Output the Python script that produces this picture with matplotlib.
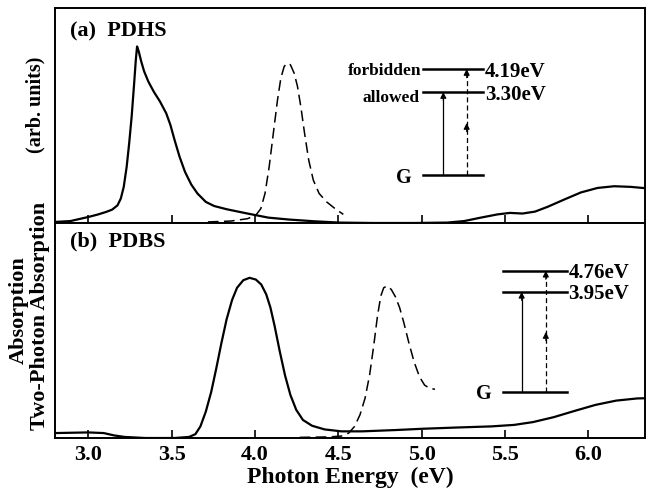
import numpy as np
import matplotlib
matplotlib.use("Agg")
import matplotlib.pyplot as plt

plt.rcParams['font.family'] = ['Liberation Serif', 'DejaVu Serif']
plt.rcParams['font.weight'] = 'bold'

# (a) PDHS  -- one-photon absorption (solid)
a_abs_e = [2.80, 2.8925, 3.0, 3.055, 3.105, 3.1425, 3.175, 3.195, 3.2125, 3.23, 3.245,
           3.26, 3.275, 3.285, 3.2925, 3.3025, 3.3175, 3.335, 3.36, 3.3925, 3.43, 3.4675,
           3.4925, 3.5175, 3.5475, 3.58, 3.6175, 3.655, 3.705, 3.755, 3.83, 3.955, 4.08,
           4.205, 4.355, 4.505, 4.705, 4.955, 5.155, 5.255, 5.355, 5.455, 5.53, 5.605,
           5.68, 5.755, 5.855, 5.955, 6.055, 6.155, 6.255, 6.34]
a_abs_y = [0.005, 0.009, 0.028, 0.039, 0.051, 0.062, 0.082, 0.114, 0.168, 0.261, 0.370,
           0.495, 0.650, 0.759, 0.821, 0.798, 0.751, 0.705, 0.658, 0.611, 0.565, 0.510,
           0.456, 0.386, 0.308, 0.238, 0.179, 0.137, 0.098, 0.079, 0.064, 0.044, 0.025,
           0.016, 0.008, 0.002, 0.0, 0.0, 0.002, 0.009, 0.025, 0.040, 0.047, 0.044,
           0.053, 0.075, 0.109, 0.142, 0.163, 0.171, 0.168, 0.162]
# (a) PDHS  -- two-photon absorption (dashed)
a_tpa_e = [3.7175, 3.855, 3.955, 4.005, 4.035, 4.06, 4.085, 4.11, 4.135, 4.155, 4.175,
           4.1925, 4.2125, 4.235, 4.255, 4.275, 4.2975, 4.3225, 4.35, 4.385, 4.43, 4.48,
           4.53]
a_tpa_y = [0.005, 0.009, 0.020, 0.036, 0.067, 0.137, 0.261, 0.417, 0.572, 0.673, 0.728,
           0.743, 0.736, 0.697, 0.635, 0.541, 0.417, 0.292, 0.199, 0.137, 0.098, 0.067,
           0.040]

# (b) PDBS  -- one-photon absorption (solid)
b_abs_e = [2.80, 3.0, 3.0925, 3.155, 3.2175, 3.3425, 3.5175, 3.605, 3.6425, 3.6725,
           3.705, 3.7375, 3.7675, 3.7975, 3.83, 3.8625, 3.8925, 3.93, 3.9675, 4.005,
           4.0375, 4.0675, 4.0925, 4.1175, 4.1475, 4.18, 4.2125, 4.2475, 4.2875, 4.3425,
           4.4175, 4.5175, 4.6425, 4.8425, 5.005, 5.2175, 5.4175, 5.555, 5.6675, 5.7925,
           5.9175, 6.0425, 6.1675, 6.2925, 6.34]
b_abs_y = [0.023, 0.026, 0.023, 0.012, 0.005, 0.0, 0.0, 0.005, 0.018, 0.054, 0.123,
           0.215, 0.323, 0.438, 0.553, 0.642, 0.699, 0.734, 0.745, 0.737, 0.714, 0.668,
           0.607, 0.522, 0.407, 0.292, 0.200, 0.131, 0.084, 0.057, 0.040, 0.031, 0.031,
           0.037, 0.043, 0.049, 0.054, 0.061, 0.074, 0.097, 0.126, 0.154, 0.174, 0.184,
           0.185]
# (b) PDBS  -- two-photon absorption (dashed)
b_tpa_e = [4.2675, 4.4425, 4.5175, 4.5625, 4.5975, 4.63, 4.66, 4.6875, 4.7125, 4.735,
           4.755, 4.7725, 4.7925, 4.8175, 4.8425, 4.8675, 4.8925, 4.9225, 4.955, 4.9875,
           5.0175, 5.05, 5.08]
b_tpa_y = [0.003, 0.005, 0.009, 0.023, 0.054, 0.108, 0.184, 0.292, 0.430, 0.568, 0.661,
           0.699, 0.707, 0.691, 0.657, 0.607, 0.538, 0.445, 0.353, 0.284, 0.246, 0.230,
           0.227]

xticks = [3.0, 3.5, 4.0, 4.5, 5.0, 5.5, 6.0]
xticklabels = ['3.0', '3.5', '4.0', '4.5', '5.0', '5.5', '6.0']

# energy level diagrams: ground, allowed, forbidden levels (panel fraction)
a_levels = [0.223, 0.609, 0.716]
b_levels = [0.215, 0.68, 0.778]
a_level_names = ['G', 'allowed', 'forbidden']
a_level_values = ['3.30eV', '4.19eV']
b_level_values = ['3.95eV', '4.76eV']

fig = plt.figure(figsize=(6.5, 4.9), dpi=100)
ax1 = fig.add_axes([0.0846, 0.5449, 0.9077, 0.4388])
ax2 = fig.add_axes([0.0846, 0.1061, 0.9077, 0.4388])

dash = (0, (7, 3.5))
for ax in (ax1, ax2):
    ax.set_xlim(2.80, 6.34)
    ax.set_ylim(0, 1)
    ax.set_yticks([])
    ax.set_xticks(xticks)
    ax.tick_params(axis='x', direction='in', length=6, width=1.2, top=False, pad=5)
    for s in ax.spines.values():
        s.set_linewidth(1.4)

ax1.plot(a_abs_e, a_abs_y, color='k', lw=1.6)
ax1.plot(a_tpa_e, a_tpa_y, color='k', lw=1.1, linestyle=dash)
ax1.set_xticklabels([])
ax2.plot(b_abs_e, b_abs_y, color='k', lw=1.6)
ax2.plot(b_tpa_e, b_tpa_y, color='k', lw=1.1, linestyle=dash)
ax2.set_xticklabels(xticklabels, fontsize=16, fontweight='bold')
ax2.set_xlabel('Photon Energy  (eV)', fontsize=17, fontweight='bold', labelpad=1)

ax1.text(2.89, 0.893, '(a)  PDHS', fontsize=16, fontweight='bold', va='center')
ax2.text(2.89, 0.914, '(b)  PDBS', fontsize=16, fontweight='bold', va='center')


def head(ax, x, y, size=9):
    ax.annotate('', xy=(x, y), xytext=(x, y - 0.04),
                arrowprops=dict(arrowstyle='-|>', color='k', lw=0.8,
                                shrinkA=0, shrinkB=0, mutation_scale=size))


def diagram(ax, levels, x0, x1, xs, xd, xg, mid, values, fs):
    g, lo, hi = levels
    for lev in levels:
        ax.plot([x0, x1], [lev, lev], color='k', lw=1.8)
    ax.plot([xs, xs], [g, lo - 0.02], color='k', lw=0.9)
    head(ax, xs, lo)
    ax.plot([xd, xd], [g, hi - 0.02], color='k', lw=0.9, linestyle=(0, (4, 2.5)))
    head(ax, xd, mid)
    head(ax, xd, hi)
    ax.text(xg, g, 'G', fontsize=14.5, fontweight='bold', ha='right',
            va='center_baseline')
    ax.text(x1 + 0.01, lo, values[0], fontsize=fs, fontweight='bold', ha='left',
            va='center_baseline')
    ax.text(x1 + 0.01, hi, values[1], fontsize=fs, fontweight='bold', ha='left',
            va='center_baseline')


diagram(ax1, a_levels, 5.01, 5.37, 5.13, 5.27, 4.94, 0.465, a_level_values, 15)
ax1.text(5.0, a_levels[2], a_level_names[2], fontsize=12.5, fontweight='bold',
         ha='right', va='center_baseline')
ax1.text(4.99, a_levels[1] - 0.02, a_level_names[1], fontsize=12.5, fontweight='bold',
         ha='right', va='center_baseline')
diagram(ax2, b_levels, 5.49, 5.87, 5.60, 5.745, 5.42, 0.493, b_level_values, 15)

fig.text(0.029, 1 - 310 / 490, 'Absorption', rotation=90, fontsize=16,
         fontweight='bold', ha='center', va='center')
fig.text(0.061, 1 - 316 / 490, 'Two-Photon Absorption', rotation=90, fontsize=16,
         fontweight='bold', ha='center', va='center')
fig.text(0.054, 1 - 105 / 490, '(arb. units)', rotation=90, fontsize=14.5,
         fontweight='bold', ha='center', va='center')

fig.savefig('out.png', dpi=100)
